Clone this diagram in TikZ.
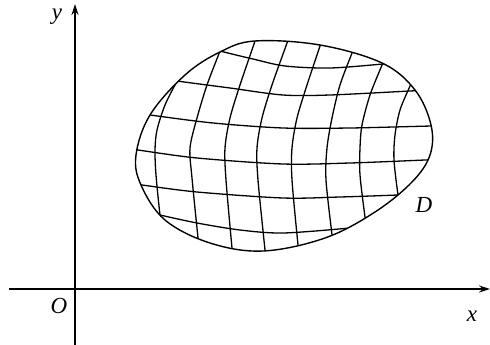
\documentclass[tikz,border=0pt]{standalone}
\usepackage{fontspec}
\setmainfont{Liberation Serif}
\usetikzlibrary{arrows.meta,positioning}

% outline of the region D
\newcommand{\rimpath}{plot[smooth cycle, tension=0.6] coordinates {(255,41) (320,45) (382,63) (415,90) (431,125) (430,155) (412,182) (375,212) (325,238) (263,251) (210,243) (165,220) (141,185) (136,155) (150,115) (185,75) (220,52)}}

\begin{document}
\begin{tikzpicture}[x=1pt, y=-1pt,
    axis/.style={line width=1.2pt, -{Stealth[length=11pt, width=7pt]}},
    gridline/.style={line width=1.3pt},
    rim/.style={line width=1.4pt},
    lbl/.style={font=\fontsize{23}{23}\selectfont\itshape, inner sep=0pt},
]
\useasboundingbox (0,0) rectangle (490,345);

% Axes
\coordinate (xstart) at (9,289);
\coordinate (xend) at (490,289);
\coordinate (ystart) at (75,345);
\coordinate (yend) at (75,4);
\draw[axis] (xstart) -- (xend);
\draw[axis] (ystart) -- (yend);

\node[lbl] (ylab) at (57,17) {y};
\node[lbl] (olab) at (59,306) {O};
\node[lbl] (xlab) at (472,316) {x};
\node[lbl] (dlab) at (424,205) {D};

% Curved grid inside D
\begin{scope}
\clip \rimpath;
% vertical lines
\draw[gridline] plot[smooth] coordinates {(185,65) (177,81) (165,105) (157,130) (155,150) (156,175) (160,215) (163,235)};
\draw[gridline] plot[smooth] coordinates {(226,35) (220,51) (207,85) (197,118) (190,148) (192,178) (198,238) (200,258)};
\draw[gridline] plot[smooth] coordinates {(260,25) (255,41) (240,85) (230,118) (225,148) (226,180) (232,248) (234,265)};
\draw[gridline] plot[smooth] coordinates {(292,28) (287,43) (272,85) (262,118) (257,148) (258,180) (265,250) (267,268)};
\draw[gridline] plot[smooth] coordinates {(325,30) (320,46) (307,85) (297,118) (292,148) (292,180) (298,245) (300,262)};
\draw[gridline] plot[smooth] coordinates {(358,37) (352,53) (340,85) (332,118) (327,148) (326,180) (332,235) (334,252)};
\draw[gridline] plot[smooth] coordinates {(388,50) (382,65) (370,95) (362,125) (360,148) (360,175) (365,217) (368,235)};
\draw[gridline] plot[smooth] coordinates {(417,70) (410,86) (400,110) (395,135) (394,160) (398,195) (401,212)};
% horizontal lines
\draw[gridline] plot[smooth] coordinates {(205,46) (220,51) (253,59) (285,66) (330,68) (383,64) (400,62)};
\draw[gridline] plot[smooth] coordinates {(160,78) (177,81) (230,88) (283,95) (330,95) (410,91) (430,90)};
\draw[gridline] plot[smooth] coordinates {(130,112) (150,115) (213,123) (283,128) (350,128) (432,126) (450,126)};
\draw[gridline] plot[smooth] coordinates {(118,147) (138,150) (197,158) (283,164) (350,163) (425,160) (445,159)};
\draw[gridline] plot[smooth] coordinates {(122,182) (142,185) (197,192) (283,198) (340,197) (398,195) (420,194)};
\draw[gridline] plot[smooth] coordinates {(140,210) (160,215) (197,223) (240,230) (283,233) (350,228) (370,225)};
\end{scope}

% Region boundary
\draw[rim] \rimpath;

\end{tikzpicture}
\end{document}
